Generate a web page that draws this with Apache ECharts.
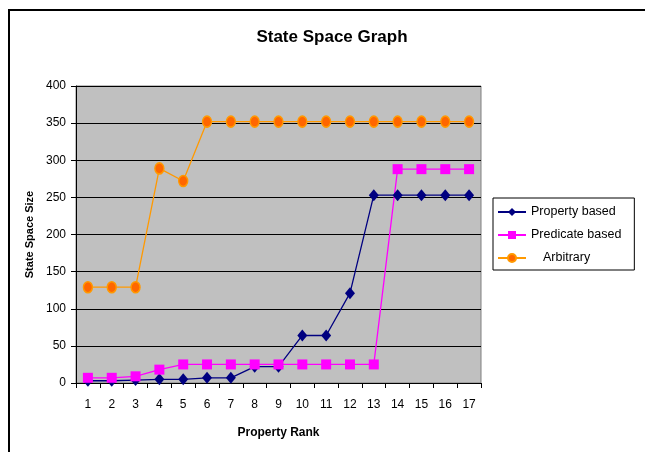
<!DOCTYPE html>
<html><head><meta charset="utf-8">
<script src="https://cdn.jsdelivr.net/npm/echarts@6/dist/echarts.min.js"></script>
<style>html,body{margin:0;padding:0;background:#fff}#c{width:645px;height:452px}</style>
</head><body><div id="c"></div>
<script>
var categories = ['1','2','3','4','5','6','7','8','9','10','11','12','13','14','15','16','17'];
var propertyBased = [3,3,4,5,5,7,7,22,22,64,64,121,253,253,253,253,253];
var predicateBased = [7,7,9,18,25,25,25,25,25,25,25,25,25,288,288,288,288];
var arbitrary = [129,129,129,289,272,352,352,352,352,352,352,352,352,352,352,352,352];

var chart = echarts.init(document.getElementById('c'), null, {renderer:'canvas'});
var font = '"Liberation Sans", Arial, sans-serif';
chart.setOption({
  animation:false,
  backgroundColor:'#fff',
  title:{text:'State Space Graph', left:327, top:24, textAlign:'center',
    textStyle:{fontFamily:font, fontSize:17, fontWeight:'bold', color:'#000'}},
  graphic:[
    {type:'polyline', shape:{points:[[9,452],[9,10],[645,10]]}, style:{stroke:'#000', lineWidth:2, fill:null}}
  ],
  legend:{
    orient:'vertical', left:493, top:198,
    itemGap:9, padding:[7,13,5,4],
    borderColor:'#000', borderWidth:1, backgroundColor:'#fff',
    itemWidth:28, itemHeight:10,
    textStyle:{fontFamily:font, fontSize:12.5, color:'#000', lineHeight:14,
      rich:{a:{fontFamily:font, fontSize:12.5, color:'#000', padding:[0,0,0,12]}}},
    formatter:function(n){ return n === 'Arbitrary' ? '{a|' + n + '}' : n; },
    data:['Property based','Predicate based','Arbitrary']
  },
  grid:{left:76, right:164, top:86, bottom:69, show:true, backgroundColor:'#C0C0C0', borderColor:'#808080', borderWidth:1},
  xAxis:{type:'category', data:categories, boundaryGap:true,
    name:'Property Rank', nameLocation:'middle', nameGap:44,
    nameTextStyle:{fontFamily:font, fontSize:12, fontWeight:'bold', color:'#000'},
    axisLine:{lineStyle:{color:'#000', width:1}},
    axisTick:{show:true, length:5, lineStyle:{color:'#000'}},
    axisLabel:{fontFamily:font, fontSize:12, color:'#000', margin:16}},
  yAxis:{type:'value', min:0, max:400, interval:50,
    name:'State Space Size', nameLocation:'middle', nameGap:41, nameRotate:90,
    nameTextStyle:{fontFamily:font, fontSize:11, fontWeight:'bold', color:'#000'},
    axisLine:{show:true, lineStyle:{color:'#000', width:1}},
    axisTick:{show:true, length:5, lineStyle:{color:'#000'}},
    splitLine:{lineStyle:{color:'#000', width:1}},
    axisLabel:{fontFamily:font, fontSize:12, color:'#000', margin:10}},
  series:[
    {name:'Property based', type:'line', data:propertyBased, symbol:'diamond', symbolSize:[10,12],
      itemStyle:{color:'#000080'}, lineStyle:{color:'#000080', width:1.3}},
    {name:'Predicate based', type:'line', data:predicateBased, symbol:'rect', symbolSize:10,
      itemStyle:{color:'#FF00FF'}, lineStyle:{color:'#FF00FF', width:1.3}},
    {name:'Arbitrary', type:'line', data:arbitrary, symbol:'circle', symbolSize:[9,11],
      itemStyle:{color:'#FF6600', borderColor:'#FF9900', borderWidth:1.5}, lineStyle:{color:'#FF9900', width:1.3}}
  ]
});
</script></body></html>
